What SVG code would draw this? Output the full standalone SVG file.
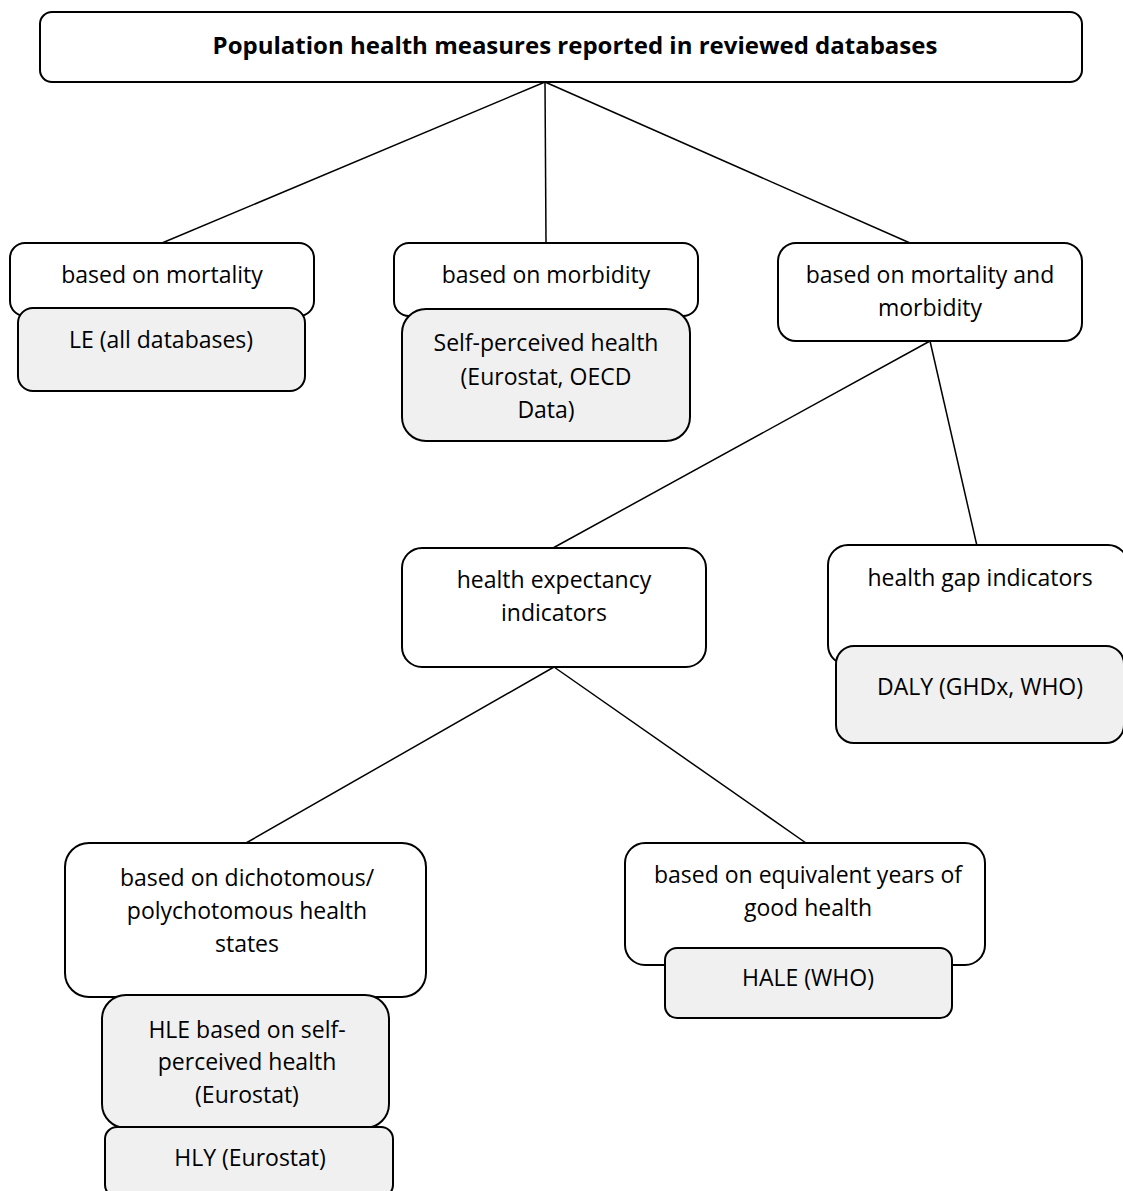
<svg xmlns="http://www.w3.org/2000/svg" width="1123" height="1191" viewBox="0 0 1123 1191">
<style>
.box{fill:#ffffff;stroke:#000;stroke-width:2}
.sub{fill:#f0f0f0;stroke:#000;stroke-width:2}
.t{font-family:"Open Sans","Liberation Sans",sans-serif;font-size:23px;fill:#000;text-anchor:middle}
.title{font-family:"Open Sans","Liberation Sans",sans-serif;font-size:24px;font-weight:bold;fill:#000;text-anchor:middle}
.c{stroke:#000;stroke-width:1.5;fill:none}
</style>
<rect width="1123" height="1191" fill="#ffffff"/>
<g id="connectors">
<line class="c" x1="545" y1="82" x2="162" y2="243"/>
<line class="c" x1="545" y1="82" x2="546" y2="243"/>
<line class="c" x1="545" y1="82" x2="910" y2="243"/>
<line class="c" x1="930" y1="341" x2="977" y2="546"/>
<line class="c" x1="930" y1="341" x2="553" y2="548"/>
<line class="c" x1="554" y1="667" x2="246" y2="843"/>
<line class="c" x1="554" y1="667" x2="806" y2="843"/>
</g>
<g id="root">
<rect class="box" x="40" y="12" width="1042" height="70" rx="12"/>
<text class="title" x="575" y="54">Population health measures reported in reviewed databases</text>
</g>
<g id="mortality">
<rect class="box" x="10" y="243" width="304" height="73" rx="15"/>
<text class="t" x="162" y="283">based on mortality</text>
</g>
<g id="le">
<rect class="sub" x="18" y="308" width="287" height="83" rx="15"/>
<text class="t" x="161" y="348">LE (all databases)</text>
</g>
<g id="morbidity">
<rect class="box" x="394" y="243" width="304" height="73" rx="15"/>
<text class="t" x="546" y="283">based on morbidity</text>
</g>
<g id="self-perceived">
<rect class="sub" x="402" y="309" width="288" height="132" rx="24"/>
<text class="t" x="546" y="351">Self-perceived health</text>
<text class="t" x="546" y="385">(Eurostat, OECD</text>
<text class="t" x="546" y="418">Data)</text>
</g>
<g id="mort-morb">
<rect class="box" x="778" y="243" width="304" height="98" rx="18"/>
<text class="t" x="930" y="283">based on mortality and</text>
<text class="t" x="930" y="316">morbidity</text>
</g>
<g id="health-expectancy">
<rect class="box" x="402" y="548" width="304" height="119" rx="20"/>
<text class="t" x="554" y="588">health expectancy</text>
<text class="t" x="554" y="621">indicators</text>
</g>
<g id="health-gap">
<rect class="box" x="828" y="545" width="300" height="120" rx="20"/>
<text class="t" x="980" y="586">health gap indicators</text>
</g>
<g id="daly">
<rect class="sub" x="836" y="646" width="288" height="97" rx="18"/>
<text class="t" x="980" y="695">DALY (GHDx, WHO)</text>
</g>
<g id="dichotomous">
<rect class="box" x="65" y="843" width="361" height="154" rx="24"/>
<text class="t" x="247" y="886">based on dichotomous/</text>
<text class="t" x="247" y="919">polychotomous health</text>
<text class="t" x="247" y="952">states</text>
</g>
<g id="hle">
<rect class="sub" x="102" y="995" width="287" height="133" rx="24"/>
<text class="t" x="247" y="1038">HLE based on self-</text>
<text class="t" x="247" y="1070">perceived health</text>
<text class="t" x="247" y="1103">(Eurostat)</text>
</g>
<g id="hly">
<rect class="sub" x="105" y="1127" width="288" height="70" rx="12"/>
<text class="t" x="250" y="1166">HLY (Eurostat)</text>
</g>
<g id="equivalent">
<rect class="box" x="625" y="843" width="360" height="122" rx="20"/>
<text class="t" x="808" y="883">based on equivalent years of</text>
<text class="t" x="808" y="916">good health</text>
</g>
<g id="hale">
<rect class="sub" x="665" y="948" width="287" height="70" rx="12"/>
<text class="t" x="808" y="986">HALE (WHO)</text>
</g>
</svg>
